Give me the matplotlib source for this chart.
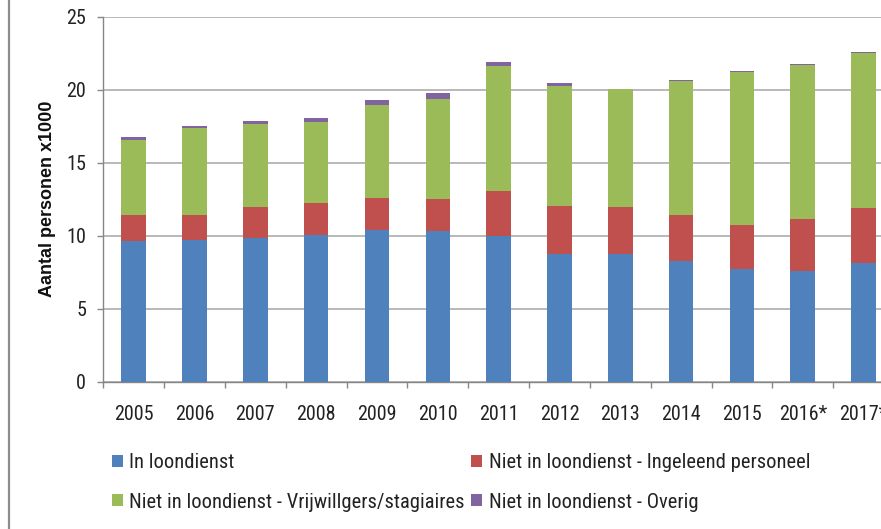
import matplotlib
matplotlib.use("Agg")
import matplotlib.pyplot as plt
from matplotlib import font_manager as fm
from matplotlib.lines import Line2D
import numpy as np

years = ["2005", "2006", "2007", "2008", "2009", "2010", "2011", "2012",
         "2013", "2014", "2015", "2016*", "2017*"]
in_loondienst = [9.61, 9.70, 9.86, 10.05, 10.39, 10.30, 10.00, 8.77, 8.77, 8.24, 7.72, 7.56, 8.11]
ingeleend = [1.83, 1.74, 2.13, 2.16, 2.19, 2.21, 3.04, 3.28, 3.22, 3.20, 3.03, 3.58, 3.81]
vrijwilligers = [5.09, 5.96, 5.68, 5.55, 6.39, 6.85, 8.60, 8.22, 8.06, 9.13, 10.44, 10.53, 10.57]
overig = [0.25, 0.13, 0.18, 0.32, 0.35, 0.39, 0.25, 0.19, 0.03, 0.11, 0.11, 0.09, 0.09]

series_names = ["In loondienst",
                "Niet in loondienst - Ingeleend personeel",
                "Niet in loondienst - Vrijwillgers/stagiaires",
                "Niet in loondienst - Overig"]
colors = ["#4F81BD", "#C0504D", "#9BBB59", "#8064A2"]
yticks = [0, 5, 10, 15, 20, 25]


def pick(names):
    for n in names:
        try:
            fm.findfont(fm.FontProperties(family=n), fallback_to_default=False)
            return n
        except Exception:
            pass
    return "DejaVu Sans"


narrow = pick(["Liberation Sans Narrow", "Roboto Condensed", "Open Sans Condensed", "Liberation Sans"])
boldf = pick(["Liberation Sans", "DejaVu Sans"])

W, H = 881, 529
fig = plt.figure(figsize=(W / 100, H / 100), dpi=100)
fig.patch.set_facecolor("white")

left, right, top, bottom = 103.3, 894.0, 16.7, 381.7
ax = fig.add_axes([left / W, 1 - bottom / H, (right - left) / W, (bottom - top) / H])

x = np.arange(len(years))
bw = 0.405
data = [in_loondienst, ingeleend, vrijwilligers, overig]
base = np.zeros(len(years))
handles = []
for vals, name, c in zip(data, series_names, colors):
    b = ax.bar(x, vals, bw, bottom=base, color=c, label=name, zorder=3,
               edgecolor="none")
    handles.append(b)
    base += np.array(vals)

ax.set_xlim(-0.5, len(years) - 0.5)
ax.set_ylim(0, 25)
ax.set_yticks(yticks)
ax.set_yticklabels([str(v) for v in yticks], fontfamily=narrow, fontsize=14.5, color="#222222")
ax.set_xticks(x)
ax.set_xticklabels(years, fontfamily=narrow, fontsize=14.5, color="#222222")
ax.set_xticks(np.arange(-0.5, len(years), 1.0), minor=True)
ax.tick_params(axis="x", which="major", length=0, pad=16.5)
ax.tick_params(axis="x", which="minor", length=4.3, color="#868686", width=1.0, direction="out")
ax.tick_params(axis="y", which="major", length=4.3, color="#868686", width=1.0, direction="out", pad=8)

ax.yaxis.grid(True, color="#A6A6A6", linewidth=1.1, zorder=0)
ax.set_axisbelow(True)
for s in ["top", "right"]:
    ax.spines[s].set_visible(False)
for s in ["left", "bottom"]:
    ax.spines[s].set_color("#868686")
    ax.spines[s].set_linewidth(1.0)

ax.set_ylabel("Aantal personen x1000", fontfamily=boldf, fontweight="bold",
              fontsize=13, labelpad=7, color="#111111")

# left frame border of the chart
fig.add_artist(Line2D([9 / W, 9 / W], [0, 1], transform=fig.transFigure,
                      color="#8C8C8C", linewidth=1.6))

order = [0, 2, 1, 3]
leg = fig.legend([handles[i] for i in order], [series_names[i] for i in order],
                 loc="upper left", bbox_to_anchor=(112 / W, 1 - 453 / H),
                 ncol=2, frameon=False, borderpad=0, borderaxespad=0,
                 prop={"family": narrow, "size": 14.8},
                 handlelength=0.55, handleheight=0.55, handletextpad=0.3,
                 columnspacing=0.3, labelspacing=1.0)
for t in leg.get_texts():
    t.set_color("#222222")

fig.savefig("out.png", dpi=100, facecolor="white")
